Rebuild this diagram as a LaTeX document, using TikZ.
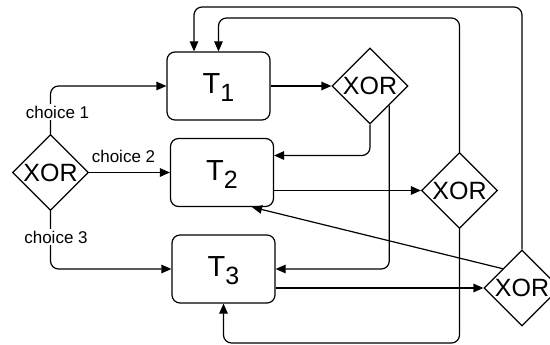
\documentclass[tikz,border=0pt]{standalone}
\usepackage{fontspec}
\setmainfont{Liberation Sans}
\usetikzlibrary{shapes.geometric,arrows.meta}

% task label: T with a lowered index
\newcommand{\tasklabel}[1]{T\raisebox{-8pt}[0pt][4pt]{\fontsize{25}{25}\selectfont #1}}

\begin{document}
\begin{tikzpicture}[x=1pt,y=-1pt,
  taskbox/.style={draw, rounded corners=8pt, minimum width=103pt, minimum height=68pt,
    inner sep=0pt, line width=1.2pt, font=\fontsize{29}{29}\selectfont},
  gate/.style={draw, diamond, minimum width=76pt, minimum height=76pt, inner sep=0pt,
    line width=1.2pt, font=\fontsize{25}{25}\selectfont},
  arr/.style={-{Triangle[length=10pt,width=8.5pt]}, line width=1.2pt, rounded corners=8pt},
  lab/.style={font=\fontsize{17}{17}\selectfont, inner sep=2pt}]

\useasboundingbox (0,0) rectangle (550,345);

% tasks
\node[taskbox] (T1) at (218.5,86) {\tasklabel{1}};
\node[taskbox] (T2) at (222,172.5) {\tasklabel{2}};
\node[taskbox] (T3) at (223.5,269) {\tasklabel{3}};

% XOR gateways
\node[gate] (L)  at (50.5,172.5) {\makebox[0pt]{XOR}};
\node[gate] (X1) at (370,86)     {\makebox[0pt]{XOR}};
\node[gate] (X2) at (459.5,190.5) {\makebox[0pt]{XOR}};
\node[gate] (X3) at (522,288)    {\makebox[0pt]{XOR}};

% rails for the loop-back connectors
\coordinate (railA) at (0,18);
\coordinate (railB) at (0,7);
\coordinate (railC) at (0,343);

% choices from the first gateway
\draw[arr] (L.north) |- (T1.west);
\draw[arr] (L.east) -- (T2.west);
\draw[arr] (L.south) |- (T3.west);
\node[lab, fill=white] (c1) at (57.5,112) {choice 1};
\node[lab] (c2) at (123.5,156) {choice 2};
\node[lab, fill=white] (c3) at (56,237) {choice 3};

% flow after T1
\draw[arr] (T1.east) -- (X1.west);
\draw[arr] (X1.south) |- ([yshift=17pt]T2.east);
\draw[arr] (X1.south east) |- (T3.east);

% flow after T2
\draw[arr] ([yshift=-18pt]T2.east) -- (X2.west);
\draw[arr] (X2.north) -- (X2.north |- railA) -- (T1.north |- railA) -- (T1.north);
\draw[arr] (X2.south) -- (X2.south |- railC) -- (T3.south |- railC) -- (T3.south);

% flow after T3
\draw[arr] ([yshift=-19pt]T3.east) -- (X3.west);
\draw[arr] (X3.north) -- (X3.north |- railB)
  -- ([xshift=-24.5pt]T1.north |- railB) -- ([xshift=-24.5pt]T1.north);
\draw[arr] (X3.north west) -- ([xshift=30pt]T2.south);

\end{tikzpicture}
\end{document}
